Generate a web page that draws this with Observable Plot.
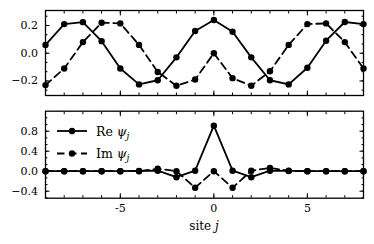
<!DOCTYPE html>
<html>
<head>
<meta charset="utf-8">
<script src="https://cdn.jsdelivr.net/npm/d3@7"></script>
<script src="https://cdn.jsdelivr.net/npm/@observablehq/plot@0.6"></script>
<style>
  html, body { margin: 0; padding: 0; background: #fff; }
  #wrap { position: relative; width: 374px; height: 244px; font-family: "DejaVu Serif", serif; }
  #top, #bot { position: absolute; left: 0; }
  #top { top: 0; }
  #bot { top: 100px; }
  #xlabel { position: absolute; top: 219px; left: 0; width: 408px; text-align: center; font-size: 12px; }
  #legend { position: absolute; left: 50px; top: 118px; }
  .it { font-style: italic; }
  svg text { font-family: "DejaVu Serif", serif !important; }
</style>
</head>
<body>
<div id="wrap">
  <div id="top"></div>
  <div id="bot"></div>
  <div id="xlabel">site <span class="it">j</span></div>
  <div id="legend"></div>
</div>
<script>
// data
const sites = [-9, -8, -7, -6, -5, -4, -3, -2, -1, 0, 1, 2, 3, 4, 5, 6, 7, 8];
const reTop = [0.06, 0.21, 0.224, 0.087, -0.11, -0.225, -0.195, -0.03, 0.16, 0.24, 0.155, -0.03, -0.195, -0.225, -0.105, 0.09, 0.225, 0.21];
const imTop = [-0.23, -0.11, 0.08, 0.22, 0.215, 0.06, -0.135, -0.235, -0.19, 0.0, -0.18, -0.235, -0.13, 0.06, 0.21, 0.215, 0.08, -0.11];
const reBot = [0, 0, 0, 0, 0, 0.005, 0.01, -0.12, 0.01, 0.91, 0.01, -0.12, 0.01, 0.005, 0, 0, 0, 0];
const imBot = [0, 0, 0, 0, 0, 0, 0.05, 0.0, -0.33, 0.0, -0.33, 0.01, 0.065, 0.01, 0, 0, 0, 0];
const xMajor = [-5, 0, 5];
const xMinor = sites;
const yTopMajor = [-0.2, 0.0, 0.2];
const yBotMajor = [-0.4, 0.0, 0.4, 0.8];

const font = "'DejaVu Serif', serif";
const fs = 11;
const dash = "7.5,4.5";
const sw = 1.8;
const r = 3.2;

function rows(ys) { return sites.map((s, i) => ({x: s, y: ys[i]})); }

function ticks(xDomain, yDomain, yMajor, yMinorStep, labelX) {
  const yMinor = d3.range(Math.ceil(yDomain[0] / yMinorStep) * yMinorStep, yDomain[1], yMinorStep);
  const xm = xMinor.filter(d => d >= xDomain[0] && d <= xDomain[1]);
  const m = [];
  for (const anchor of ["bottom", "top"]) {
    m.push(Plot.axisX({anchor, ticks: xm, tickSize: -2.5, tickFormat: () => "", label: null, strokeWidth: 1}));
    m.push(Plot.axisX({anchor, ticks: xMajor, tickSize: -4.5, tickPadding: (anchor === "bottom" && labelX) ? 10 : 0,
      tickFormat: (anchor === "bottom" && labelX) ? (d => String(d)) : () => "", label: null,
      fontSize: fs, fontFamily: font, strokeWidth: 1}));
  }
  for (const anchor of ["left", "right"]) {
    m.push(Plot.axisY({anchor, ticks: yMinor, tickSize: -2.5, tickFormat: () => "", label: null, strokeWidth: 1}));
    m.push(Plot.axisY({anchor, ticks: yMajor, tickSize: -4.5, tickPadding: anchor === "left" ? 12 : 0,
      tickFormat: anchor === "left" ? d3.format(".1f") : () => "", label: null,
      fontSize: fs, fontFamily: font, strokeWidth: 1}));
  }
  return m;
}

function series(data, dashed) {
  return [
    Plot.line(data, {x: "x", y: "y", stroke: "black", strokeWidth: sw, strokeDasharray: dashed ? dash : null}),
    Plot.dot(data, {x: "x", y: "y", r, fill: "black", stroke: null})
  ];
}

const xDom = [-9, 8];
const topDom = [-0.305, 0.308];
const botDom = [-0.54, 1.2];

const topPlot = Plot.plot({
  width: 374, height: 110,
  marginLeft: 45, marginRight: 11, marginTop: 10, marginBottom: 15,
  x: {domain: xDom}, y: {domain: topDom},
  style: {fontFamily: font, fontSize: fs + "px", background: "white", overflow: "visible"},
  marks: [
    ...series(rows(reTop), false),
    ...series(rows(imTop), true),
    ...ticks(xDom, topDom, yTopMajor, 0.2 / 3, false),
    Plot.frame({stroke: "black", strokeWidth: 1.3})
  ]
});
document.getElementById("top").appendChild(topPlot);

const botPlot = Plot.plot({
  width: 374, height: 144,
  marginLeft: 45, marginRight: 11, marginTop: 10.7, marginBottom: 46.3,
  x: {domain: xDom}, y: {domain: botDom},
  style: {fontFamily: font, fontSize: fs + "px", background: "transparent", overflow: "visible"},
  marks: [
    ...series(rows(reBot), false),
    ...series(rows(imBot), true),
    ...ticks(xDom, botDom, yBotMajor, 0.4 / 3, true),
    Plot.frame({stroke: "black", strokeWidth: 1.3})
  ]
});
document.getElementById("bot").appendChild(botPlot);

// legend
const legendItems = [
  {name: "Re", dashed: false},
  {name: "Im", dashed: true}
];
const leg = d3.select("#legend").append("svg").attr("width", 90).attr("height", 48)
  .style("overflow", "visible");
legendItems.forEach((it, i) => {
  const y = 13 + i * 22.5;
  const g = leg.append("g").attr("transform", `translate(0,${y})`);
  g.append("line").attr("x1", 7).attr("x2", 37).attr("y1", 0).attr("y2", 0)
    .attr("stroke", "black").attr("stroke-width", sw)
    .attr("stroke-dasharray", it.dashed ? dash : null);
  g.append("circle").attr("cx", 22).attr("cy", 0).attr("r", r).attr("fill", "black");
  const t = g.append("text").attr("x", 46).attr("y", 4.5)
    .attr("font-size", 12.5);
  t.append("tspan").text(it.name + " ");
  t.append("tspan").attr("font-style", "italic").text("ψ");
  t.append("tspan").attr("font-style", "italic").attr("font-size", 9).attr("dy", 3).text("j");
});
</script>
</body>
</html>
